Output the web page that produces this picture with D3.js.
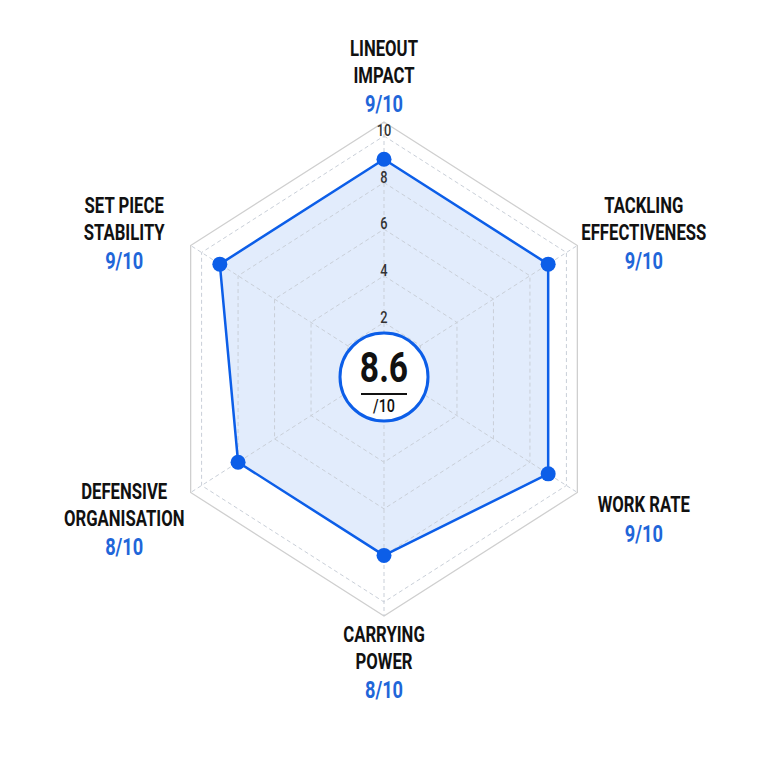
<!DOCTYPE html>
<html>
<head>
<meta charset="utf-8">
<script src="https://cdn.jsdelivr.net/npm/d3@7"></script>
<style>
  html, body { margin: 0; padding: 0; background: #ffffff; }
  svg { display: block; }
  .lbl { font-family: "Roboto", "Liberation Sans", sans-serif; }
</style>
</head>
<body>
<svg id="chart" width="768" height="768"></svg>
<script>
"use strict";

// chart data
const categories = [
  ["LINEOUT", "IMPACT"],
  ["TACKLING", "EFFECTIVENESS"],
  ["WORK RATE"],
  ["CARRYING", "POWER"],
  ["DEFENSIVE", "ORGANISATION"],
  ["SET PIECE", "STABILITY"]
];
const scores = [9, 9, 9, 8, 8, 9];
const scoreLabels = ["9/10", "9/10", "9/10", "8/10", "8/10", "9/10"];
const ringLevels = [2, 4, 6, 8, 10];
const tickLabels = ["2", "4", "6", "8", "10"];
const overall = "8.6";
const overallMax = "/10";

const cx = 384;
const cy = 369;
const squeeze = 0.904;   // horizontal squash of the hexagon
const frameLevel = 10.6;
const blue = "#0c5ee8";

const r = d3.scaleLinear().domain([0, 10]).range([0, 233]);
const angle = d3.scaleLinear().domain([0, categories.length]).range([0, 2 * Math.PI]);

function pt(i, v)
{
    const a = angle(i);
    return [cx + Math.sin(a) * r(v) * squeeze, cy - Math.cos(a) * r(v)];
}

function ring(v)
{
    return d3.range(categories.length).map(i => pt(i, v));
}

/**
 * Writes a horizontally condensed text centred at x, y
 */
function condensed(parent, x, y, str, size, weight, color, narrow)
{
    return parent.append("text")
                 .attr("class", "lbl")
                 .attr("transform", "translate(" + x + "," + y + ") scale(" + narrow + ",1)")
                 .attr("text-anchor", "middle")
                 .attr("dominant-baseline", "middle")
                 .attr("font-size", size)
                 .attr("font-weight", weight)
                 .attr("fill", color)
                 .text(str);
}

const svg = d3.select("#chart");
const line = d3.line().curve(d3.curveLinearClosed);

// outer frame
svg.append("path")
   .attr("d", line(ring(frameLevel)))
   .attr("fill", "none")
   .attr("stroke", "#cfcfcf")
   .attr("stroke-width", 1.3);

// data area
svg.append("path")
   .attr("d", line(scores.map((s, i) => pt(i, s))))
   .attr("fill", "#e2ecfc");

// dashed grid rings
svg.append("g")
   .selectAll("path")
   .data(ringLevels)
   .join("path")
   .attr("d", d => line(ring(d)))
   .attr("fill", "none")
   .attr("stroke", "#c9cfd8")
   .attr("stroke-width", 1)
   .attr("stroke-dasharray", "4,3");

// dashed spokes
svg.append("g")
   .selectAll("line")
   .data(d3.range(categories.length))
   .join("line")
   .attr("x1", cx)
   .attr("y1", cy)
   .attr("x2", i => pt(i, frameLevel)[0])
   .attr("y2", i => pt(i, frameLevel)[1])
   .attr("stroke", "#c9cfd8")
   .attr("stroke-width", 1)
   .attr("stroke-dasharray", "4,3");

// data outline and dots
svg.append("path")
   .attr("d", line(scores.map((s, i) => pt(i, s))))
   .attr("fill", "none")
   .attr("stroke", blue)
   .attr("stroke-width", 2.5)
   .attr("stroke-linejoin", "round");

svg.append("g")
   .selectAll("circle")
   .data(scores)
   .join("circle")
   .attr("cx", (d, i) => pt(i, d)[0])
   .attr("cy", (d, i) => pt(i, d)[1])
   .attr("r", 7.5)
   .attr("fill", blue);

// tick labels on the vertical spoke
const ticks = svg.append("g");
ringLevels.forEach((v, i) =>
{
    condensed(ticks, cx, cy - r(v) - 4, tickLabels[i], 16, 500, "#333", 0.8);
});

// centre badge
const badgeY = cy + 8;
svg.append("circle")
   .attr("cx", cx)
   .attr("cy", badgeY)
   .attr("r", 44)
   .attr("fill", "#ffffff")
   .attr("stroke", blue)
   .attr("stroke-width", 3);

condensed(svg, cx, badgeY - 6, overall, 42, 700, "#111", 0.8);

svg.append("line")
   .attr("x1", cx - 23)
   .attr("x2", cx + 23)
   .attr("y1", badgeY + 17)
   .attr("y2", badgeY + 17)
   .attr("stroke", "#111")
   .attr("stroke-width", 2);

condensed(svg, cx, badgeY + 30, overallMax, 18, 500, "#111", 0.8);

// axis labels
const lineGap = 27;
categories.forEach((words, i) =>
{
    const a = angle(i);
    const c = Math.cos(a);
    const x = cx + Math.sin(a) * 300;
    const lines = words.length + 1;
    let yc = 377 - c * 286;
    if (c > 0.9)
        yc -= 14;
    const y0 = yc - (lines - 1) * lineGap / 2;

    const g = svg.append("g");
    words.forEach((w, j) =>
    {
        condensed(g, x, y0 + j * lineGap, w, 22, 700, "#111", 0.76);
    });
    condensed(g, x, y0 + words.length * lineGap + 2, scoreLabels[i], 24, 700, "#1f66d9", 0.76);
});
</script>
</body>
</html>
